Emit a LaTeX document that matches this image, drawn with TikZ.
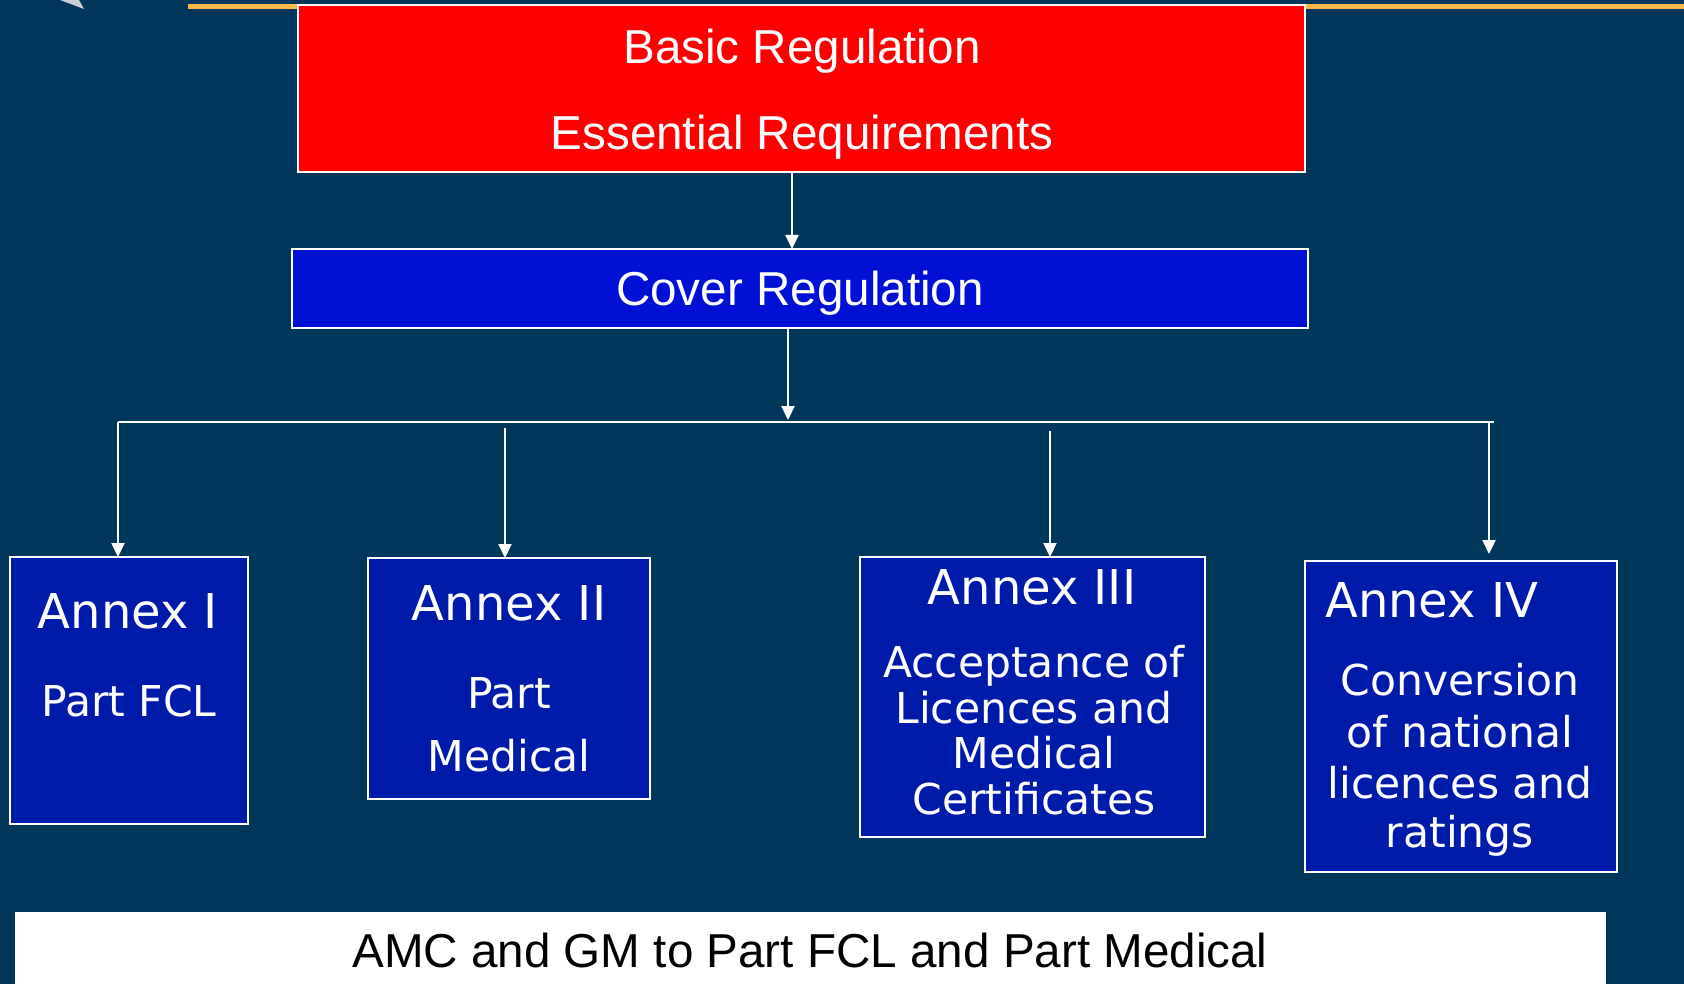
\documentclass[tikz,border=0pt]{standalone}
\usepackage{fontspec}
\setmainfont{Liberation Sans}
\newfontfamily\verd{DejaVu Sans}
\usetikzlibrary{arrows.meta}
\definecolor{bg}{RGB}{0,55,90}
\definecolor{redbox}{RGB}{255,0,0}
\definecolor{coverblue}{RGB}{0,16,212}
\definecolor{annexblue}{RGB}{0,26,170}
\definecolor{orangeline}{RGB}{255,185,70}
\definecolor{logogrey}{RGB}{200,205,215}
\tikzset{
 box/.style={draw=white, line width=2.5pt, anchor=north west, inner sep=0pt, outer sep=0pt},
 arial/.style={text=white, font=\fontsize{47.6pt}{57pt}\selectfont, anchor=base, inner sep=0pt},
 atitle/.style={text=white, font=\verd\fontsize{48pt}{58pt}\selectfont, anchor=base, inner sep=0pt},
 abody/.style={text=white, font=\verd\fontsize{42.5pt}{50pt}\selectfont, anchor=base, inner sep=0pt},
 conn/.style={draw=white, line width=2.2pt},
 arr/.style={conn, -{Triangle[length=14pt,width=13pt]}},
}
\begin{document}
\begin{tikzpicture}[x=1pt,y=-1pt]
\fill[bg] (0,0) rectangle (1684,984);
\useasboundingbox (0,0) rectangle (1684,984);
\fill[logogrey] (60,0) -- (79,0) -- (84,9) -- cycle;
\fill[orangeline] (188,4) rectangle (1684,9);
% boxes
\node[box, fill=redbox, minimum width=1007pt, minimum height=167pt] (basic) at (298,5) {};
\node[box, fill=coverblue, minimum width=1016pt, minimum height=79pt] (cover) at (292,249) {};
\node[box, fill=annexblue, minimum width=238pt, minimum height=267pt] (a1) at (10,557) {};
\node[box, fill=annexblue, minimum width=282pt, minimum height=241pt] (a2) at (368,558) {};
\node[box, fill=annexblue, minimum width=345pt, minimum height=280pt] (a3) at (860,557) {};
\node[box, fill=annexblue, minimum width=312pt, minimum height=311pt] (a4) at (1305,561) {};
\node[fill=white, draw=none, anchor=north west, inner sep=0pt, minimum width=1591pt, minimum height=72pt] (amc) at (15,912) {};
% texts
\node[arial] (t1) at (802,64) {Basic Regulation};
\node[arial] (t2) at (802,150) {Essential Requirements};
\node[arial] (t3) at (800,306) {Cover Regulation};
\node[arial, text=black] (t4) at (810,967) {AMC and GM to Part FCL and Part Medical};
\node[atitle] (a1t) at (128,628) {Annex I};
\node[abody] (a1b) at (129,716) {Part FCL};
\node[atitle] (a2t) at (509,620) {Annex II};
\node[abody] (a2b) at (509,708) {Part};
\node[abody] (a2c) at (509,771) {Medical};
\node[atitle] (a3t) at (1032,604) {Annex III};
\node[abody] (a3b) at (1034,677) {Acceptance of};
\node[abody] (a3c) at (1034,723) {Licences and};
\node[abody] (a3d) at (1034,768) {Medical};
\node[abody] (a3e) at (1034,814) {Certificates};
\node[atitle, anchor=base west] (a4t) at (1325,617) {Annex IV};
\node[abody] (a4b) at (1460,695) {Conversion};
\node[abody] (a4c) at (1460,747) {of national};
\node[abody] (a4d) at (1460,798) {licences and};
\node[abody] (a4e) at (1460,847) {ratings};
% connectors
\coordinate (c1) at (792,0);
\draw[arr] (basic.south -| c1) -- (cover.north -| c1);
\coordinate (busM) at (788,420);
\draw[arr] (cover.south -| busM) -- (busM);
\coordinate (busL) at (118,422);
\coordinate (busR) at (1494,422);
\draw[conn] (busL) -- (busR);
\draw[arr] (busL) -- (busL |- a1.north);
\coordinate (d2) at (505,428);
\draw[arr] (d2) -- (d2 |- a2.north);
\coordinate (d3) at (1050,431);
\draw[arr] (d3) -- (d3 |- a3.north);
\coordinate (d4) at (1489,422);
\coordinate (e4) at (1489,554);
\draw[arr] (d4) -- (e4);
\end{tikzpicture}
\end{document}
